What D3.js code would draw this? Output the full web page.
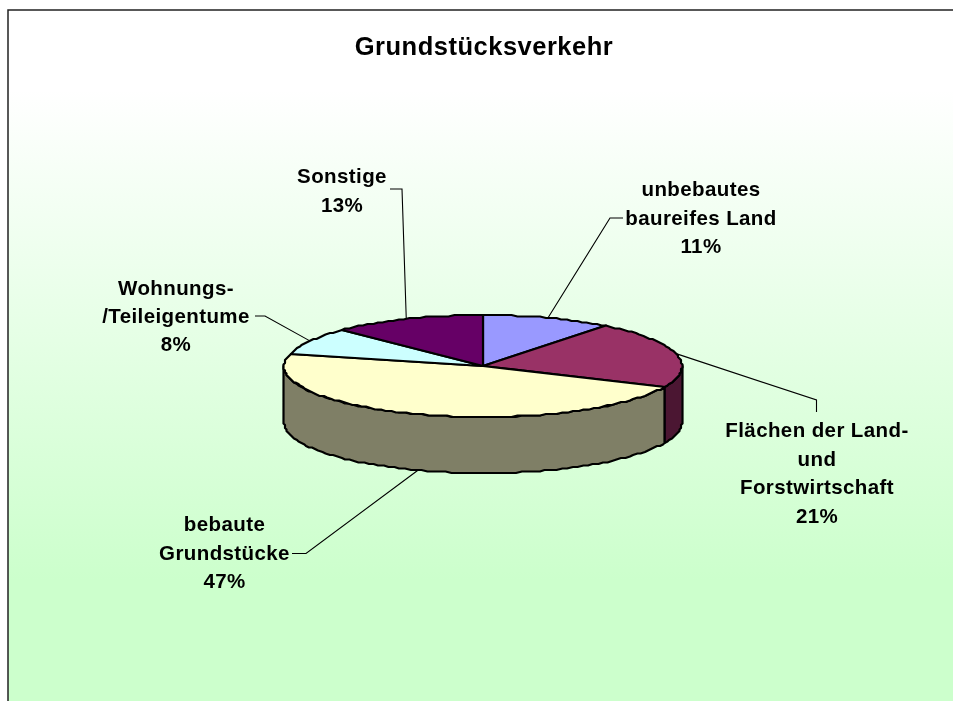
<!DOCTYPE html>
<html>
<head>
<meta charset="utf-8">
<script src="https://cdn.jsdelivr.net/npm/d3@7"></script>
<style>
html, body { margin: 0; padding: 0; background: #fff; overflow: hidden; }
text { font-family: "Liberation Sans", Arial, sans-serif; font-weight: bold; fill: #000; }
</style>
</head>
<body>
<div id="chart"></div>
<script>
var title = "Grundstücksverkehr";
var categories = ["unbebautes baureifes Land", "Flächen der Land- und Forstwirtschaft", "bebaute Grundstücke", "Wohnungs- /Teileigentume", "Sonstige"];
var values = [10.6, 21, 47.4, 8.4, 12.6];
var percentLabels = ["11%", "21%", "47%", "8%", "13%"];
var colors = ["#9999ff", "#993366", "#ffffcc", "#ccffff", "#660066"];
var sideColors = ["#4c4c7f", "#4c1933", "#7f7f66", "#667f7f", "#330033"];

// how each label is broken up and where it sits
var labelLines = [
    ["unbebautes", "baureifes Land", "11%"],
    ["Flächen der Land-", "und", "Forstwirtschaft", "21%"],
    ["bebaute", "Grundstücke", "47%"],
    ["Wohnungs-", "/Teileigentume", "8%"],
    ["Sonstige", "13%"]
];
var labelPos = [
    {x: 701, y: 196, dy: 28.5},
    {x: 817, y: 437, dy: 28.5},
    {x: 224.5, y: 531, dy: 28.5},
    {x: 176, y: 295, dy: 28},
    {x: 342, y: 183, dy: 28.5}
];
var leaderElbows = [
    [[610, 218], [623, 218]],
    [[816.5, 400], [816.5, 412]],
    [[306, 553.5], [292, 553.5]],
    [[265, 316], [255, 316]],
    [[402, 189], [390, 189]]
];

var width = 953, height = 701;
var cx = 483, cy = 366, rx = 199, ry = 51, depth = 56;
var stairStep = 1.5;

var svg = d3.select("#chart").append("svg")
    .attr("width", width)
    .attr("height", height)
    .style("display", "block");

var defs = svg.append("defs");
var grad = defs.append("linearGradient")
    .attr("id", "bg")
    .attr("gradientUnits", "userSpaceOnUse")
    .attr("x1", 0).attr("y1", 90).attr("x2", 0).attr("y2", 580);
grad.append("stop").attr("offset", "0").attr("stop-color", "#ffffff");
grad.append("stop").attr("offset", "1").attr("stop-color", "#ccffcc");

defs.append("filter").attr("id", "soft")
    .append("feGaussianBlur").attr("stdDeviation", 0.4);

defs.append("clipPath").attr("id", "labelClip")
    .append("rect").attr("x", 0).attr("y", 0).attr("width", 908).attr("height", height);

svg.append("rect")
    .attr("x", 8).attr("y", 10)
    .attr("width", width + 20).attr("height", height + 20)
    .attr("fill", "url(#bg)")
    .attr("stroke", "#222")
    .attr("stroke-width", 1.5);

var soft = svg.append("g").attr("filter", "url(#soft)");

soft.append("text")
    .attr("x", cx + 1)
    .attr("y", 55)
    .attr("text-anchor", "middle")
    .style("font-size", "25.5px")
    .style("letter-spacing", "0.5px")
    .text(title);

var xScale = d3.scaleLinear().domain([-1, 1]).range([cx - rx, cx + rx]);
var yScale = d3.scaleLinear().domain([-1, 1]).range([cy - ry, cy + ry]);

var pie = d3.pie().sort(null).value(function(d) { return d; });
var arcs = pie(values);

function px(a) { return xScale(Math.sin(a)); }
function py(a) { return yScale(-Math.cos(a)); }
function snap(v) { return Math.round(v / stairStep) * stairStep; }

// the rim wobbles a little like the low resolution original
function rimPoints(a0, a1) {
    var pts = [];
    var n = Math.max(2, Math.ceil((a1 - a0) / 0.03));
    for(var i = 0; i <= n; i++) {
        var a = a0 + (a1 - a0) * i / n;
        pts.push([snap(px(a)), snap(py(a))]);
    }
    return pts;
}

var line = d3.line();
var g = soft.append("g").attr("class", "pie");

// side wall, only the part facing the viewer
arcs.forEach(function(d, i) {
    var a0 = Math.max(d.startAngle, Math.PI / 2);
    var a1 = Math.min(d.endAngle, Math.PI * 1.5);
    if(a1 <= a0) return;
    var top = rimPoints(a0, a1);
    var bottom = top.map(function(p) { return [p[0], p[1] + depth]; }).reverse();
    g.append("path")
        .attr("d", line(top.concat(bottom)) + "Z")
        .attr("fill", sideColors[i])
        .attr("stroke", "#000")
        .attr("stroke-width", 2.2)
        .attr("stroke-linejoin", "round");
});

// top face
arcs.forEach(function(d, i) {
    var pts = [[xScale(0), yScale(0)]].concat(rimPoints(d.startAngle, d.endAngle));
    g.append("path")
        .attr("d", line(pts) + "Z")
        .attr("fill", colors[i])
        .attr("stroke", "#000")
        .attr("stroke-width", 2.2)
        .attr("stroke-linejoin", "round");
});

// leader lines start on the rim at the middle of each slice
arcs.forEach(function(d, i) {
    var mid = (d.startAngle + d.endAngle) / 2;
    var front = mid > Math.PI / 2 && mid < Math.PI * 1.5 && d.value > 40;
    var start = [px(mid), py(mid) + (front ? depth : 0)];
    soft.append("path")
        .attr("d", line([start].concat(leaderElbows[i])))
        .attr("fill", "none")
        .attr("stroke", "#000")
        .attr("stroke-width", 1.1);
});

labelLines.forEach(function(lines, i) {
    var t = soft.append("text")
        .attr("text-anchor", "middle")
        .style("font-size", "20.5px")
        .style("letter-spacing", "0.4px")
        .attr("aria-label", categories[i] + " " + percentLabels[i]);
    if(i === 1) t.attr("clip-path", "url(#labelClip)");
    lines.forEach(function(l, k) {
        t.append("tspan")
            .attr("x", labelPos[i].x)
            .attr("y", labelPos[i].y + k * labelPos[i].dy)
            .text(l);
    });
});
</script>
</body>
</html>
